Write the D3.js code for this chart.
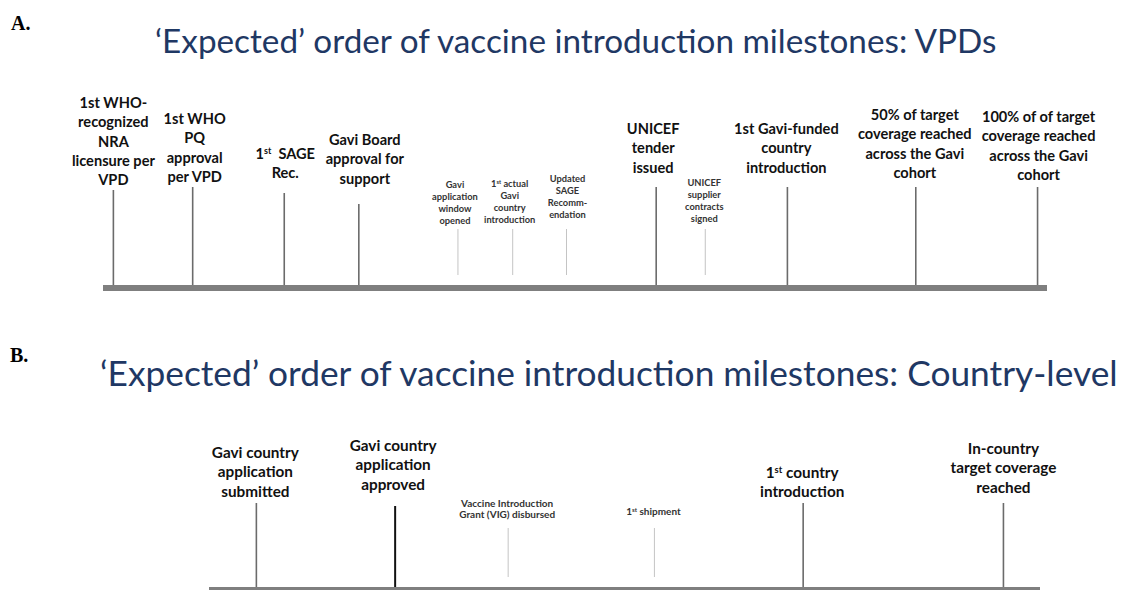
<!DOCTYPE html>
<html>
<head>
<meta charset="utf-8">
<script src="https://cdn.jsdelivr.net/npm/d3@7"></script>
<style>
  body { margin: 0; background: #fff; }
  svg { display: block; }
</style>
</head>
<body>
<div id="chart"></div>
<script>
// Panel A: VPD-level milestones (position = place on the timeline, 0..100)
var milestonesA = [
  ["1st WHO-", "recognized", "NRA", "licensure per", "VPD"],
  ["1st WHO", "PQ", "approval", "per VPD"],
  ["1^st  SAGE", "Rec."],
  ["Gavi Board", "approval for", "support"],
  ["Gavi", "application", "window", "opened"],
  ["1^st actual", "Gavi", "country", "introduction"],
  ["Updated", "SAGE", "Recomm-", "endation"],
  ["UNICEF", "tender", "issued"],
  ["UNICEF", "supplier", "contracts", "signed"],
  ["1st Gavi-funded", "country", "introduction"],
  ["50% of target", "coverage reached", "across the Gavi", "cohort"],
  ["100% of of target", "coverage reached", "across the Gavi", "cohort"]
];
var positionsA = [1.1, 9.5, 19.2, 27.1, 37.6, 43.4, 49.1, 58.6, 63.8, 72.5, 86.1, 99.0];
var kindA = ["major", "major", "major", "major", "minor", "minor", "minor", "major", "minor", "major", "major", "major"];

// Panel B: country-level milestones
var milestonesB = [
  ["Gavi country", "application", "submitted"],
  ["Gavi country", "application", "approved"],
  ["Vaccine Introduction", "Grant (VIG) disbursed"],
  ["1^st shipment"],
  ["1^st country", "introduction"],
  ["In-country", "target coverage", "reached"]
];
var positionsB = [5.7, 22.4, 36.0, 53.6, 71.5, 95.6];
var kindB = ["major", "key", "minor", "minor", "major", "major"];

var titleA = "\u2018Expected\u2019 order of vaccine introduction milestones: VPDs";
var titleB = "\u2018Expected\u2019 order of vaccine introduction milestones: Country-level";

// layout (pixels) -- label first-line centre, stem top, small label nudges
var layoutA = {
  axisY: 285, range: [103, 1047],
  labelY: [103, 119, 154, 140, 185, 184, 179, 129, 183, 129, 115, 117],
  stemTop: [190, 187, 193, 204, 229, 229, 229, 187, 229, 187, 187, 187],
  dx: [0, 2, 1, 6, -3, -3, 1, -3, -1, -1, -1, 1],
  font: { major: 14.6, majorLh: 19.2, minor: 9.3, minorLh: 12 }
};
var layoutB = {
  axisY: 587, range: [209, 1040],
  labelY: [452, 445, 503, 511, 472, 448],
  stemTop: [503, 506, 528, 528, 503, 503],
  dx: [-1, -2, -1, -1, -1, 0],
  font: { major: 15.3, majorLh: 19.7, minor: 10, minorLh: 11 }
};

var svgWidth = 1121;
var svgHeight = 590;

var svg = d3.select("#chart")
  .append("svg")
  .attr("width", svgWidth)
  .attr("height", svgHeight);

var labelFont = "Lato, 'Open Sans', sans-serif";

// titles, fitted to the width they take in the original slide
function drawTitle(text, x0, x1, baseline) {
  var t = svg.append("text")
    .attr("x", x0)
    .attr("y", baseline)
    .attr("fill", "#1F3864")
    .style("font-family", labelFont)
    .style("font-weight", 400)
    .style("font-size", "34px")
    .text(text);
  var w = t.node().getComputedTextLength();
  t.style("font-size", (34 * (x1 - x0) / w) + "px");
}

svg.append("text").attr("x", 11).attr("y", 30)
  .style("font-family", "'Liberation Serif', 'Times New Roman', serif")
  .style("font-weight", "bold").style("font-size", "20px")
  .text("A.");
svg.append("text").attr("x", 10).attr("y", 362)
  .style("font-family", "'Liberation Serif', 'Times New Roman', serif")
  .style("font-weight", "bold").style("font-size", "20px")
  .text("B.");

drawTitle(titleA, 155, 997, 53);
drawTitle(titleB, 100, 1118, 386);

// adds one text line, "^st" marks a superscript
function addLine(sel, str) {
  var m = str.match(/^(.*?)\^(st)(.*)$/);
  if (!m) { sel.text(str); return; }
  sel.append("tspan").text(m[1]);
  sel.append("tspan").attr("baseline-shift", "super").style("font-size", "62%").text(m[2]);
  sel.append("tspan").text(m[3]);
}

var styles = {
  major: { stroke: "#6b6b6b", sw: 1.6, color: "#111", bottomGap: 0 },
  key:   { stroke: "#111", sw: 2, color: "#111", bottomGap: 0 },
  minor: { stroke: "#c4c4c4", sw: 1, color: "#333", bottomGap: 10 }
};

function drawPanel(labels, positions, kinds, layout) {
  var x = d3.scaleLinear().domain([0, 100]).range(layout.range);
  var g = svg.append("g");

  var items = labels.map(function(d, i) {
    return { lines: d, pos: positions[i], kind: kinds[i], i: i };
  });

  // stems
  g.selectAll("line.stem")
    .data(items)
    .enter()
    .append("line")
    .attr("class", "stem")
    .attr("x1", d => x(d.pos))
    .attr("x2", d => x(d.pos))
    .attr("y1", d => layout.stemTop[d.i])
    .attr("y2", d => layout.axisY - styles[d.kind].bottomGap)
    .attr("stroke", d => styles[d.kind].stroke)
    .attr("stroke-width", d => styles[d.kind].sw);

  // the timeline bar
  g.append("rect")
    .attr("x", layout.range[0])
    .attr("y", layout.axisY)
    .attr("width", layout.range[1] - layout.range[0])
    .attr("height", 6)
    .attr("fill", "#7f7f7f");

  // labels
  items.forEach(function(d) {
    var st = styles[d.kind];
    var minor = d.kind === "minor";
    var fs = minor ? layout.font.minor : layout.font.major;
    var lh = minor ? layout.font.minorLh : layout.font.majorLh;
    var t = g.append("text")
      .attr("text-anchor", "middle")
      .attr("fill", st.color)
      .style("white-space", "pre")
      .style("font-family", labelFont)
      .style("font-weight", "bold")
      .style("font-size", fs + "px");
    d.lines.forEach(function(line, k) {
      var ts = t.append("tspan")
        .attr("x", x(d.pos) + layout.dx[d.i])
        .attr("y", layout.labelY[d.i] + k * lh + fs * 0.36);
      addLine(ts, line);
    });
  });
}

drawPanel(milestonesA, positionsA, kindA, layoutA);
drawPanel(milestonesB, positionsB, kindB, layoutB);
</script>
</body>
</html>
